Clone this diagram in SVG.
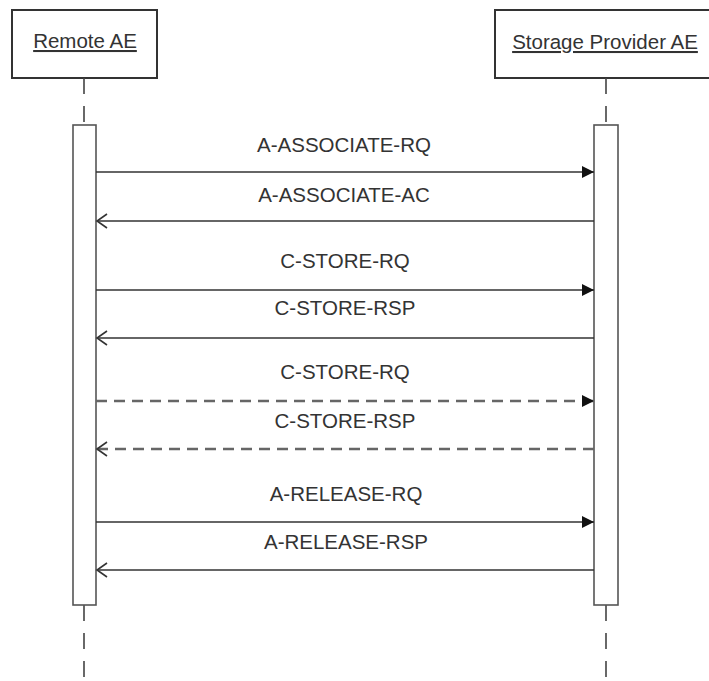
<svg xmlns="http://www.w3.org/2000/svg" width="709" height="681" viewBox="0 0 709 681">
<style>
.box{fill:#fff;stroke:#333;stroke-width:2}
.bar{fill:#fff;stroke:#555;stroke-width:1.6}
.life{stroke:#444;stroke-width:1.6;stroke-dasharray:16 12;fill:none}
.msg{stroke:#333;stroke-width:1.7;fill:none}
.dash{stroke-dasharray:11 7;stroke:#666;stroke-width:2.4}
.lbl{font-family:"Liberation Sans",Arial,sans-serif;font-size:20.5px;fill:#333;text-anchor:middle}
.hdr{font-family:"Liberation Sans",Arial,sans-serif;font-size:20.5px;fill:#333;text-anchor:middle;text-decoration:underline}
</style>
<defs>
<marker id="filled" markerWidth="14" markerHeight="14" refX="12" refY="6" orient="auto" markerUnits="userSpaceOnUse">
<path d="M0,0 L12,6 L0,12 Z" fill="#111"/>
</marker>
<marker id="open" markerWidth="14" markerHeight="18" refX="11" refY="8" orient="auto" markerUnits="userSpaceOnUse">
<path d="M1,1 L11,8 L1,15" fill="none" stroke="#333" stroke-width="1.6"/>
</marker>
</defs>
<rect width="709" height="681" fill="#fff"/>
<g id="remote-ae">
<rect class="box" x="12" y="10" width="145" height="68"/>
<text class="hdr" x="85" y="48">Remote AE</text>
<line class="life" x1="84" y1="78" x2="84" y2="125"/>
<line class="life" x1="84" y1="605" x2="84" y2="681"/>
<rect class="bar" x="73" y="125" width="23" height="480"/>
</g>
<g id="storage-provider-ae">
<rect class="box" x="495" y="10" width="230" height="68"/>
<text class="hdr" x="605" y="49">Storage Provider AE</text>
<line class="life" x1="606" y1="78" x2="606" y2="125"/>
<line class="life" x1="606" y1="605" x2="606" y2="681"/>
<rect class="bar" x="594" y="125" width="24" height="480"/>
</g>
<g id="connectors">
<line class="msg" x1="96" y1="172" x2="594" y2="172" marker-end="url(#filled)"/>
<text class="lbl" x="344" y="152">A-ASSOCIATE-RQ</text>
<line class="msg" x1="594" y1="221" x2="97" y2="221" marker-end="url(#open)"/>
<text class="lbl" x="344" y="202">A-ASSOCIATE-AC</text>
<line class="msg" x1="96" y1="290" x2="594" y2="290" marker-end="url(#filled)"/>
<text class="lbl" x="345" y="268">C-STORE-RQ</text>
<line class="msg" x1="594" y1="338" x2="97" y2="338" marker-end="url(#open)"/>
<text class="lbl" x="345" y="315">C-STORE-RSP</text>
<line class="msg dash" x1="96" y1="401" x2="594" y2="401" marker-end="url(#filled)"/>
<text class="lbl" x="345" y="379">C-STORE-RQ</text>
<line class="msg dash" x1="594" y1="449" x2="97" y2="449" marker-end="url(#open)"/>
<text class="lbl" x="345" y="428">C-STORE-RSP</text>
<line class="msg" x1="96" y1="522" x2="594" y2="522" marker-end="url(#filled)"/>
<text class="lbl" x="346" y="501">A-RELEASE-RQ</text>
<line class="msg" x1="594" y1="570" x2="97" y2="570" marker-end="url(#open)"/>
<text class="lbl" x="346" y="549">A-RELEASE-RSP</text>
</g>
</svg>
